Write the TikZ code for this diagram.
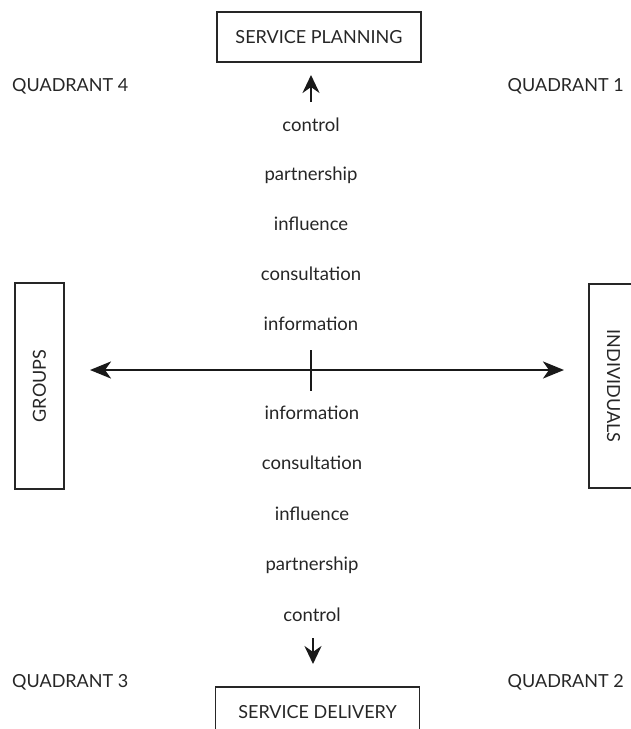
\documentclass[tikz,border=0pt]{standalone}
\usepackage{fontspec}
\setmainfont{Lato}
\usetikzlibrary{arrows.meta}
\begin{document}
\begin{tikzpicture}[x=1pt,y=-1pt,
  lbl/.style={font=\fontsize{18.5}{22}\selectfont, text=black!85, inner sep=0pt, anchor=base},
  quad/.style={font=\fontsize{18}{22}\selectfont, text=black!85, inner sep=0pt},
  boxnode/.style={draw=black!85, line width=1.2pt, font=\fontsize{18}{22}\selectfont, text=black!85, inner sep=0pt},
  bigarrow/.style={line width=2.8pt, draw=black!90}
]
\useasboundingbox (0,0) rectangle (630,729);
% boxes
\node[boxnode, minimum width=204pt, minimum height=50pt] (plan) at (319,37) {SERVICE PLANNING};
\node[boxnode, minimum width=204pt, minimum height=50pt] (deliv) at (317.5,712) {SERVICE DELIVERY};
\node[boxnode, rotate=90, minimum width=206pt, minimum height=49pt] (groups) at (39.5,386) {GROUPS};
\node[boxnode, rotate=-90, minimum width=204pt, minimum height=49pt] (indiv) at (613.5,386) {INDIVIDUALS};
% quadrant labels
\node[quad, anchor=base west] (q4) at (12,91) {QUADRANT 4};
\node[quad, anchor=base east] (q1) at (624,91) {QUADRANT 1};
\node[quad, anchor=base west] (q3) at (12,687) {QUADRANT 3};
\node[quad, anchor=base east] (q2) at (624,687) {QUADRANT 2};
% upper ladder
\node[lbl] (uctl) at (311,131) {control};
\node[lbl] (upart) at (311,180) {partnership};
\node[lbl] (uinfl) at (311,230) {influence};
\node[lbl] (ucons) at (311,280) {consultation};
\node[lbl] (uinfo) at (311,330) {information};
% lower ladder
\node[lbl] (linfo) at (312,419) {information};
\node[lbl] (lcons) at (312,469) {consultation};
\node[lbl] (linfl) at (312,520) {influence};
\node[lbl] (lpart) at (312,570) {partnership};
\node[lbl] (lctl) at (312,621) {control};
% arrow end points
\coordinate (upA) at (311,102);
\coordinate (upB) at (311,75);
\coordinate (dnA) at (313,638);
\coordinate (dnB) at (313,664);
\coordinate (hL) at (90,370);
\coordinate (hR) at (564,370);
\coordinate (tickT) at (311,350);
\coordinate (tickB) at (311,391);
% arrows
\draw[bigarrow, -{Stealth[length=18pt,width=17pt,inset=6pt]}] (upA) -- (upB);
\draw[bigarrow, -{Stealth[length=18pt,width=17pt,inset=6pt]}] (dnA) -- (dnB);
\draw[bigarrow, {Stealth[length=21pt,width=17pt,inset=6pt]}-{Stealth[length=21pt,width=17pt,inset=6pt]}] (hL) -- (hR);
\draw[line width=1.4pt, draw=black!90] (tickT) -- (tickB);
\end{tikzpicture}
\end{document}
